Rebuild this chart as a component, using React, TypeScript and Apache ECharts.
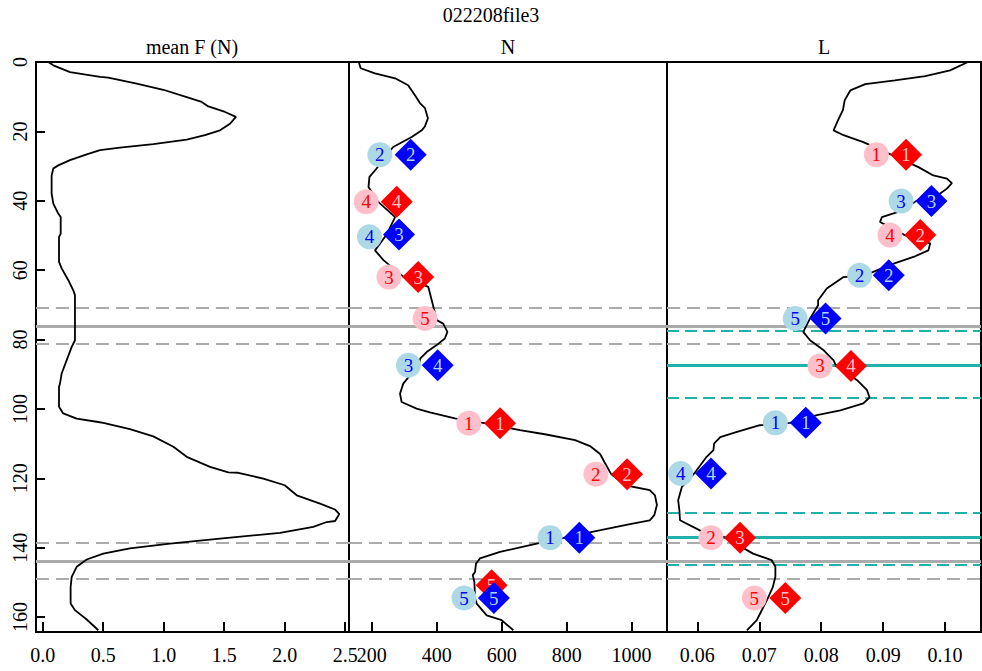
import React, { useEffect, useRef } from 'react';
import * as echarts from 'echarts';

const mainTitle = '022208file3';
const panelTitles = ['mean F (N)', 'N', 'L'];

// Y (depth) ticks shared by all panels
const depthTicks = [0, 20, 40, 60, 80, 100, 120, 140, 160];
const fTicks = [0, 0.5, 1.0, 1.5, 2.0, 2.5];
const nTicks = [200, 400, 600, 800, 1000];
const lTicks = [0.06, 0.07, 0.08, 0.09, 0.1];

// Panel 1: mean F curve
const fDepth = [0, 0.95, 2.9, 4.3, 4.5, 6.2, 8.0, 10.1, 11.5, 12.8, 14.4, 15.8, 17.8, 19.7, 21.1, 22.4, 23.7, 24.7, 25.4, 26.6, 28.3, 29.8, 30.7, 32.7, 37.9, 40.8, 43.7, 44.7, 49.5, 50.4, 57.6, 59.5, 62.9, 65.8, 67.2, 80.2, 82.1, 86.0, 89.8, 92.7, 93.7, 99.4, 101.3, 102.8, 103.7, 104.0, 105.8, 107.9, 110.9, 113.8, 116.7, 118.3, 118.4, 120.1, 122.0, 124.9, 127.3, 129.0, 130.3, 132.3, 132.6, 134.0, 135.7, 137.4, 138.8, 140.2, 141.7, 143.4, 145.5, 148.4, 151.3, 156.1, 158.0, 160.7, 163.8];
const fValue = [0.046, 0.088, 0.226, 0.474, 0.542, 0.777, 0.997, 1.19, 1.314, 1.369, 1.507, 1.597, 1.548, 1.465, 1.341, 1.19, 0.914, 0.639, 0.474, 0.364, 0.226, 0.129, 0.088, 0.074, 0.074, 0.088, 0.129, 0.149, 0.149, 0.135, 0.135, 0.157, 0.212, 0.253, 0.267, 0.267, 0.24, 0.198, 0.157, 0.143, 0.135, 0.135, 0.17, 0.281, 0.446, 0.501, 0.721, 0.914, 1.08, 1.19, 1.383, 1.534, 1.617, 1.823, 2.0, 2.099, 2.292, 2.416, 2.451, 2.416, 2.347, 2.236, 1.961, 1.465, 1.052, 0.721, 0.501, 0.364, 0.281, 0.24, 0.231, 0.231, 0.267, 0.364, 0.46];

// Panel 2: N curve
const nDepth = [0, 1.8, 3.3, 4.7, 6.7, 9.6, 11.9, 13.3, 16.2, 18.5, 19.7, 21.6, 24.5, 26.7, 30.7, 33.1, 36.0, 40.3, 44.7, 49.7, 54.3, 57.1, 62.0, 64.8, 70.6, 74.4, 75.4, 77.8, 79.7, 81.6, 83.6, 85.5, 87.4, 90.3, 92.7, 95.6, 98.0, 99.9, 101.0, 102.7, 104.1, 106.1, 107.3, 109.0, 110.7, 113.0, 115.6, 118.8, 122.0, 123.4, 124.9, 127.7, 130.6, 132.1, 133.2, 135.4, 137.1, 138.8, 141.2, 143.1, 144.6, 147.0, 147.9, 149.9, 154.5, 156.1, 159.5, 160.9, 163.8];
const nValue = [160, 166, 210, 272, 312, 333, 349, 364, 373, 364, 354, 323, 266, 246, 215, 193, 190, 220, 272, 246, 210, 236, 299, 374, 390, 400, 420, 433, 425, 400, 369, 349, 345, 318, 297, 287, 292, 338, 379, 456, 546, 656, 733, 826, 872, 903, 918, 937, 980, 1056, 1072, 1078, 1070, 1056, 995, 882, 795, 708, 595, 533, 521, 518, 511, 516, 518, 523, 554, 600, 636];

// Panel 3: L curve
const lDepth = [0, 2.4, 4.1, 5.3, 6.4, 8.2, 11.0, 13.9, 16.8, 19.7, 21.1, 23.1, 26.7, 30.3, 32.7, 33.6, 34.9, 36.5, 37.9, 40.1, 42.7, 44.7, 46.1, 49.9, 52.3, 54.3, 56.2, 58.1, 61.5, 62.0, 65.3, 68.7, 70.1, 73.9, 77.8, 80.2, 83.1, 86.0, 87.6, 91.7, 94.6, 96.7, 98.4, 100.4, 101.8, 104.0, 104.7, 106.6, 108.1, 110.0, 111.9, 113.8, 118.6, 122.5, 126.3, 129.2, 132.1, 135.0, 137.1, 141.7, 143.6, 145.5, 148.4, 151.3, 154.5, 160.9, 163.8];
const lValue = [0.1037, 0.1008, 0.0968, 0.0919, 0.0871, 0.0847, 0.0838, 0.0835, 0.0827, 0.082, 0.0836, 0.0868, 0.0913, 0.0957, 0.0981, 0.1003, 0.1011, 0.1003, 0.0992, 0.0953, 0.0933, 0.0898, 0.0895, 0.0935, 0.0976, 0.0973, 0.0949, 0.0917, 0.087, 0.0836, 0.0809, 0.0795, 0.0795, 0.0782, 0.0771, 0.0782, 0.0804, 0.082, 0.0824, 0.0858, 0.0874, 0.0878, 0.0868, 0.0831, 0.0793, 0.075, 0.0701, 0.0664, 0.0637, 0.0627, 0.0626, 0.0615, 0.0595, 0.0575, 0.0569, 0.0571, 0.0572, 0.0604, 0.0645, 0.069, 0.072, 0.0726, 0.0726, 0.0722, 0.0714, 0.0696, 0.068];

// Panel 2 markers
const nCircleBlueDepth = [26.7, 50.4, 87.4, 137.1, 154.5];
const nCircleBlueValue = [225, 193, 313, 749, 484];
const nCircleBlueLabel = ['2', '4', '3', '1', '5'];
const nCirclePinkDepth = [40.3, 62.0, 73.9, 104.1, 118.8];
const nCirclePinkValue = [183, 253, 364, 499, 890];
const nCirclePinkLabel = ['4', '3', '5', '1', '2'];
const nDiamondBlueDepth = [26.7, 49.7, 87.4, 137.1, 154.5];
const nDiamondBlueValue = [320, 284, 403, 839, 576];
const nDiamondBlueLabel = ['2', '3', '4', '1', '5'];
const nDiamondRedDepth = [40.3, 62.0, 104.1, 118.8, 150.8];
const nDiamondRedValue = [277, 343, 595, 986, 569];
const nDiamondRedLabel = ['4', '3', '1', '2', '5'];

// Panel 3 markers
const lCircleBlueDepth = [40.1, 61.5, 73.9, 104.0, 118.6];
const lCircleBlueValue = [0.0929, 0.0862, 0.0758, 0.0726, 0.0573];
const lCircleBlueLabel = ['3', '2', '5', '1', '4'];
const lCirclePinkDepth = [26.7, 49.9, 87.6, 137.1, 154.5];
const lCirclePinkValue = [0.0889, 0.0911, 0.0798, 0.0622, 0.0692];
const lCirclePinkLabel = ['1', '4', '3', '2', '5'];
const lDiamondBlueDepth = [40.1, 61.5, 73.9, 104.0, 118.6];
const lDiamondBlueValue = [0.0978, 0.0909, 0.0807, 0.0775, 0.0622];
const lDiamondBlueLabel = ['3', '2', '5', '1', '4'];
const lDiamondRedDepth = [26.7, 49.9, 87.6, 137.1, 154.5];
const lDiamondRedValue = [0.0937, 0.096, 0.0848, 0.0669, 0.0742];
const lDiamondRedLabel = ['1', '2', '4', '3', '5'];

// Reference depths
const grayDashed = [70.7, 81.2, 138.6, 149.0];
const graySolid = [76.1, 143.9];
const tealDashed = [77.5, 96.7, 129.9, 144.8];
const tealSolid = [87.4, 137.1];

const FONT = '"Liberation Serif", "Times New Roman", serif';
const GRAY = '#ABABAB';
const TEAL = '#20B2AA';

function zip(xs: number[], ys: number[]) {
  return xs.map((x, i) => [x, ys[i]]);
}
function markerData(xs: number[], ds: number[], labels: string[]) {
  return xs.map((x, i) => ({ name: labels[i], value: [x, ds[i]] }));
}

export default function App() {
  const ref = useRef<HTMLDivElement>(null);
  useEffect(() => {
    if (!ref.current) return;
    const chart = echarts.init(ref.current, undefined, { renderer: 'svg' });

    const grayLines = [
      ...grayDashed.map((v) => ({ yAxis: v, lineStyle: { color: GRAY, width: 2, type: [13, 7] } })),
      ...graySolid.map((v) => ({ yAxis: v, lineStyle: { color: GRAY, width: 3, type: 'solid' } })),
    ];
    const tealLines = [
      ...tealDashed.map((v) => ({ yAxis: v, lineStyle: { color: TEAL, width: 2, type: [12, 6] } })),
      ...tealSolid.map((v) => ({ yAxis: v, lineStyle: { color: TEAL, width: 3, type: 'solid' } })),
    ];
    const mk = (data: any[]) => ({
      silent: true,
      symbol: ['none', 'none'],
      label: { show: false },
      z: 1,
      animation: false,
      data,
    });

    const xAxisBase = (idx: number, min: number, max: number, ticks: number[], fmt: (v: number) => string) => ({
      gridIndex: idx,
      type: 'value',
      position: 'bottom',
      min,
      max,
      axisLine: { show: false, onZero: false },
      splitLine: { show: false },
      axisTick: { show: true, inside: true, length: 10, customValues: ticks, lineStyle: { color: '#000', width: 2 } },
      axisLabel: {
        show: true,
        customValues: ticks,
        margin: 13,
        fontSize: 20,
        fontFamily: FONT,
        color: '#000',
        formatter: (v: number) => fmt(v),
      },
    });

    const yAxisBase = (idx: number) => ({
      gridIndex: idx,
      type: 'value',
      inverse: true,
      position: 'left',
      min: 0,
      max: 164.3,
      show: idx === 0,
      axisLine: { show: false, onZero: false },
      splitLine: { show: false },
      axisTick: { show: idx === 0, inside: true, length: 9, customValues: depthTicks, lineStyle: { color: '#000', width: 2 } },
      axisLabel: {
        show: idx === 0,
        customValues: depthTicks,
        rotate: 90,
        margin: 6,
        fontSize: 20,
        fontFamily: FONT,
        color: '#000',
      },
    });

    const scatter = (idx: number, data: any[], symbol: string, size: number, fill: string, textColor: string, z: number) => ({
      type: 'scatter',
      xAxisIndex: idx,
      yAxisIndex: idx,
      symbol,
      symbolSize: size,
      itemStyle: { color: fill, opacity: 1 },
      label: {
        show: true,
        position: 'inside',
        formatter: '{b}',
        color: textColor,
        fontSize: 19,
        fontFamily: FONT,
      },
      z,
      silent: true,
      data,
    });

    const curve = (idx: number, data: number[][], lines: any[]) => ({
      type: 'line',
      xAxisIndex: idx,
      yAxisIndex: idx,
      data,
      symbol: 'none',
      showSymbol: false,
      smooth: false,
      lineStyle: { color: '#000', width: 1.8 },
      z: 2,
      silent: true,
      markLine: mk(lines),
    });

    const textStyle = { fontFamily: FONT, fontSize: 20, fontWeight: 'normal', color: '#000' };

    chart.setOption({
      animation: false,
      backgroundColor: '#fff',
      title: [
        { text: mainTitle, left: 491, top: 5, textAlign: 'center', padding: 0, textStyle },
        { text: panelTitles[0], left: 192, top: 37, textAlign: 'center', padding: 0, textStyle },
        { text: panelTitles[1], left: 508, top: 37, textAlign: 'center', padding: 0, textStyle },
        { text: panelTitles[2], left: 824, top: 37, textAlign: 'center', padding: 0, textStyle },
      ],
      grid: [
        { left: 36, top: 62, width: 313, height: 570, show: true, borderColor: '#000', borderWidth: 2, backgroundColor: 'transparent', containLabel: false },
        { left: 349, top: 62, width: 318, height: 570, show: true, borderColor: '#000', borderWidth: 2, backgroundColor: 'transparent', containLabel: false },
        { left: 667, top: 62, width: 314, height: 570, show: true, borderColor: '#000', borderWidth: 2, backgroundColor: 'transparent', containLabel: false },
      ],
      xAxis: [
        xAxisBase(0, -0.055, 2.531, fTicks, (v) => v.toFixed(1)),
        xAxisBase(1, 130, 1109, nTicks, (v) => String(Math.round(v))),
        xAxisBase(2, 0.0551, 0.1058, lTicks, (v) => v.toFixed(2)),
      ],
      yAxis: [yAxisBase(0), yAxisBase(1), yAxisBase(2)],
      series: [
        curve(0, zip(fValue, fDepth), grayLines),
        curve(1, zip(nValue, nDepth), grayLines),
        curve(2, zip(lValue, lDepth), [...grayLines, ...tealLines]),
        scatter(1, markerData(nCircleBlueValue, nCircleBlueDepth, nCircleBlueLabel), 'circle', 25, '#ADD8E6', '#0000FF', 3),
        scatter(1, markerData(nCirclePinkValue, nCirclePinkDepth, nCirclePinkLabel), 'circle', 25, '#FFC0CB', '#FF0000', 3),
        scatter(1, markerData(nDiamondRedValue, nDiamondRedDepth, nDiamondRedLabel), 'diamond', 32, '#FF0000', '#FFC0CB', 4),
        scatter(1, markerData(nDiamondBlueValue, nDiamondBlueDepth, nDiamondBlueLabel), 'diamond', 32, '#0000FF', '#ADD8E6', 5),
        scatter(2, markerData(lCircleBlueValue, lCircleBlueDepth, lCircleBlueLabel), 'circle', 25, '#ADD8E6', '#0000FF', 3),
        scatter(2, markerData(lCirclePinkValue, lCirclePinkDepth, lCirclePinkLabel), 'circle', 25, '#FFC0CB', '#FF0000', 3),
        scatter(2, markerData(lDiamondRedValue, lDiamondRedDepth, lDiamondRedLabel), 'diamond', 32, '#FF0000', '#FFC0CB', 4),
        scatter(2, markerData(lDiamondBlueValue, lDiamondBlueDepth, lDiamondBlueLabel), 'diamond', 32, '#0000FF', '#ADD8E6', 5),
      ],
    });

    return () => {
      chart.dispose();
    };
  }, []);

  return (
    <div
      ref={ref}
      style={{ position: 'fixed', left: 0, top: 0, width: 982, height: 671, background: '#fff' }}
    />
  );
}
